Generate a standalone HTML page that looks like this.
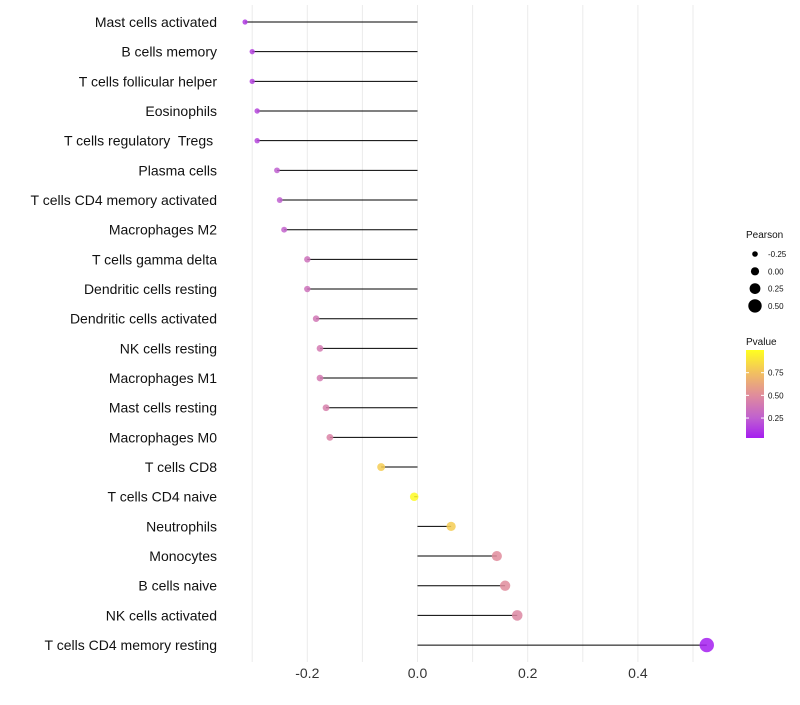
<!DOCTYPE html>
<html><head><meta charset="utf-8"><style>
body{margin:0;background:#fff;font-family:"Liberation Sans",sans-serif;}
text{white-space:pre;}
</style></head><body>
<svg id="chart" width="800" height="700" xmlns="http://www.w3.org/2000/svg" font-family="Liberation Sans, sans-serif"></svg>
<script>
const categories=["Mast cells activated","B cells memory","T cells follicular helper","Eosinophils","T cells regulatory  Tregs ","Plasma cells","T cells CD4 memory activated","Macrophages M2","T cells gamma delta","Dendritic cells resting","Dendritic cells activated","NK cells resting","Macrophages M1","Mast cells resting","Macrophages M0","T cells CD8","T cells CD4 naive","Neutrophils","Monocytes","B cells naive","NK cells activated","T cells CD4 memory resting"];
const pearson=[-0.313,-0.300,-0.300,-0.291,-0.291,-0.255,-0.250,-0.242,-0.200,-0.200,-0.184,-0.177,-0.177,-0.166,-0.159,-0.066,-0.006,0.061,0.144,0.159,0.181,0.525];
const pvalue=[0.12,0.15,0.15,0.17,0.17,0.25,0.25,0.27,0.35,0.35,0.38,0.4,0.4,0.43,0.45,0.8,0.98,0.8,0.5,0.5,0.47,0.03];
const xTicks=[-0.2,0,0.2,0.4];
const xTickLabels=["-0.2","0.0","0.2","0.4"];
const sizeLegend=[-0.25,0,0.25,0.5];
const sizeLegendLabels=["-0.25","0.00","0.25","0.50"];
const pTicks=[0.75,0.5,0.25];

const svg=document.getElementById('chart');
const NS="http://www.w3.org/2000/svg";
const x=v=>417.5+v*551;
const y=i=>22+i*29.67;
const r=v=>Math.max(2,4.3+5.5*v);
const stops=[[0.03,[165,30,240]],[0.25,[192,96,208]],[0.5,[224,140,156]],[0.75,[242,192,96]],[1,[255,255,32]]];
function col(p){p=Math.max(0.03,Math.min(1,p));for(let k=1;k<stops.length;k++){if(p<=stops[k][0]){const a=stops[k-1],b=stops[k],t=(p-a[0])/(b[0]-a[0]);return 'rgb('+a[1].map((c,j)=>Math.round(c+(b[1][j]-c)*t)).join(',')+')';}}return 'rgb(255,255,32)';}
const py=p=>438-(p-0.03)/0.97*88;
function mk(t,attrs,parent){const e=document.createElementNS(NS,t);for(const k in attrs)e.setAttribute(k,attrs[k]);(parent||svg).appendChild(e);return e;}

for(let g=-0.3;g<=0.55;g+=0.1){
 const l=mk('line',{x1:x(g),x2:x(g),y1:5,y2:662,stroke:'#ebebeb','stroke-width':1});
 
 
}
xTicks.forEach((v,i)=>{
 const t=mk('text',{x:x(v),y:678,'text-anchor':'middle','font-size':14,fill:'#333'});
 t.textContent=xTickLabels[i];
 
 
});
categories.forEach((c,i)=>{
 const t=mk('text',{x:217,y:y(i)+5,'text-anchor':'end','font-size':14,fill:'#111'});
 t.textContent=c;
 
 
 const l=mk('line',{x1:x(0),x2:x(pearson[i]),y1:y(i),y2:y(i),stroke:'#000','stroke-width':1});
 
 
 const p=mk('circle',{cx:x(pearson[i]),cy:y(i),r:r(pearson[i]),fill:col(pvalue[i]),'fill-opacity':0.85});
 
 
});
let t=mk('text',{x:746,y:238,'font-size':10,fill:'#111'});t.textContent='Pearson';


sizeLegend.forEach((v,i)=>{
 const cy=254+i*17.3;
 const c=mk('circle',{cx:755,cy:cy,r:2.8+i*1.3,fill:'#000'});
 
 
 const tt=mk('text',{x:768,y:cy+3,'font-size':8,fill:'#111'});tt.textContent=sizeLegendLabels[i];
 
 
});
t=mk('text',{x:746,y:345,'font-size':10,fill:'#111'});t.textContent='Pvalue';


const defs=mk('defs',{});const lg=mk('linearGradient',{id:'pg',x1:0,y1:1,x2:0,y2:0},defs);
stops.forEach(s=>mk('stop',{offset:(s[0]-0.03)/0.97,'stop-color':col(s[0])},lg));
const bar=mk('rect',{x:746,y:350,width:18,height:88,fill:'url(#pg)'});


pTicks.forEach(p=>{
 mk('line',{x1:746,x2:749,y1:py(p),y2:py(p),stroke:'#fff'});mk('line',{x1:761,x2:764,y1:py(p),y2:py(p),stroke:'#fff'});
 const tt=mk('text',{x:768,y:py(p)+3,'font-size':8,fill:'#111'});tt.textContent=p.toFixed(2);
 
 
});
</script>
</body></html>
